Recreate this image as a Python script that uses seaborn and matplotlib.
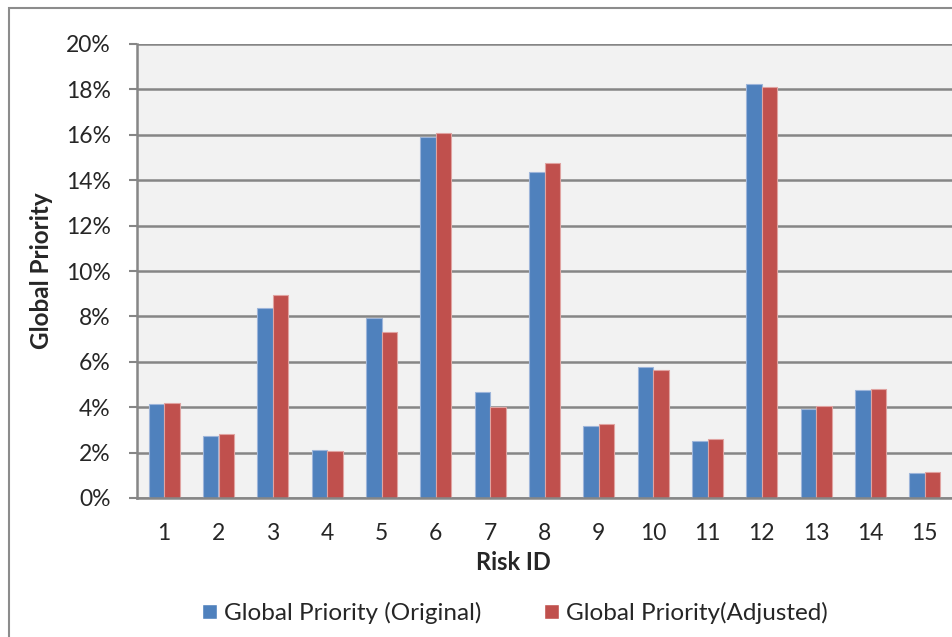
import matplotlib
matplotlib.use("Agg")
import matplotlib.pyplot as plt
from matplotlib.patches import Rectangle
from matplotlib.ticker import FixedLocator, PercentFormatter
from matplotlib.transforms import blended_transform_factory
import seaborn as sns
import pandas as pd

# Risk data: global priority before and after adjustment (percent)
risk_ids = [str(i) for i in range(1, 16)]
original = [4.13, 2.73, 8.36, 2.10, 7.92, 15.92, 4.67, 14.35, 3.17, 5.77, 2.51, 18.24, 3.93, 4.74, 1.11]
adjusted = [4.20, 2.80, 8.94, 2.06, 7.33, 16.08, 4.00, 14.77, 3.25, 5.64, 2.59, 18.12, 4.05, 4.81, 1.15]
series_names = ["Global Priority (Original)", "Global Priority(Adjusted)"]
y_ticks = [0, 2, 4, 6, 8, 10, 12, 14, 16, 18, 20]

df = pd.DataFrame({
    "Risk ID": risk_ids * 2,
    "value": original + adjusted,
    "series": [series_names[0]] * len(risk_ids) + [series_names[1]] * len(risk_ids),
})

sns.set_style("white")
plt.rcParams["font.family"] = ["Lato", "DejaVu Sans"]

BLUE = "#4F81BD"
RED = "#C0504D"
GRID = "#868686"

fig = plt.figure(figsize=(9.52, 6.37), dpi=100)
W, H = 952, 637
ax_bottom, ax_top = 498, 44
ax = fig.add_axes([137 / W, 1 - ax_bottom / H, 1 - 137 / W, (ax_bottom - ax_top) / H])
ax.set_facecolor("#F2F2F2")

sns.barplot(data=df, x="Risk ID", y="value", hue="series",
            palette=[BLUE, RED], width=0.57, ax=ax, legend=False,
            saturation=1)

# light outline on each bar
n = len(risk_ids)
for i, p in enumerate(ax.patches[:2 * n]):
    p.set_edgecolor("#9DB5DA" if i < n else "#E0A3A1")
    p.set_linewidth(0.8)

ax.set_xlim(-0.5, n - 0.5)
ax.set_ylim(0, 20)
ax.yaxis.set_major_locator(FixedLocator(y_ticks))
ax.yaxis.set_major_formatter(PercentFormatter(decimals=0))
ax.grid(axis="y", color=GRID, linewidth=1.8)
ax.set_axisbelow(True)

# category separators as ticks; category names written below the axis
ax.set_xticks(range(n))
ax.set_xticklabels([])
ax.set_xticks([k - 0.5 for k in range(n + 1)], minor=True)
ax.tick_params(axis="x", which="major", length=0)
ax.tick_params(axis="x", which="minor", length=6, width=1.5, color=GRID, direction="out")
ax.tick_params(axis="y", length=6, width=1.5, color=GRID, pad=13, labelsize=16.5,
               direction="out", left=True)

cat_tr = blended_transform_factory(ax.transData, ax.transAxes)
label_y = -(534 - ax_bottom) / (ax_bottom - ax_top)
for i, lab in enumerate(risk_ids):
    ax.text(i, label_y, lab, transform=cat_tr, ha="center", va="center", fontsize=16.5)

for side in ["top", "right"]:
    ax.spines[side].set_visible(False)
for side in ["left", "bottom"]:
    ax.spines[side].set_color(GRID)
    ax.spines[side].set_linewidth(1.8)

ax.set_xlabel("Risk ID", fontsize=17, fontweight="bold")
ax.xaxis.label.set_va("center")
ax.xaxis.set_label_coords((513 - 137) / 815, -(563 - ax_bottom) / (ax_bottom - ax_top))
ax.set_ylabel("Global Priority", fontsize=17.5, fontweight="bold")
ax.yaxis.label.set_va("center")
ax.yaxis.set_label_coords((42 - 137) / 815, 0.5)

# outer chart frame
fig.patches.append(Rectangle((9 / W, -0.05), 1.2, 1 - 8 / H + 0.05,
                             transform=fig.transFigure, fill=False,
                             edgecolor="#8C8C8C", linewidth=1.5))

handles = [Rectangle((0, 0), 1, 1, facecolor=BLUE), Rectangle((0, 0), 1, 1, facecolor=RED)]
fig.legend(handles, series_names, loc="center", bbox_to_anchor=(515 / W, 1 - 613 / H),
           ncol=2, frameon=False, fontsize=17.5, handlelength=0.6, handleheight=0.6,
           handletextpad=0.3, columnspacing=2.6, borderaxespad=0)

fig.savefig("out.png", dpi=100)
